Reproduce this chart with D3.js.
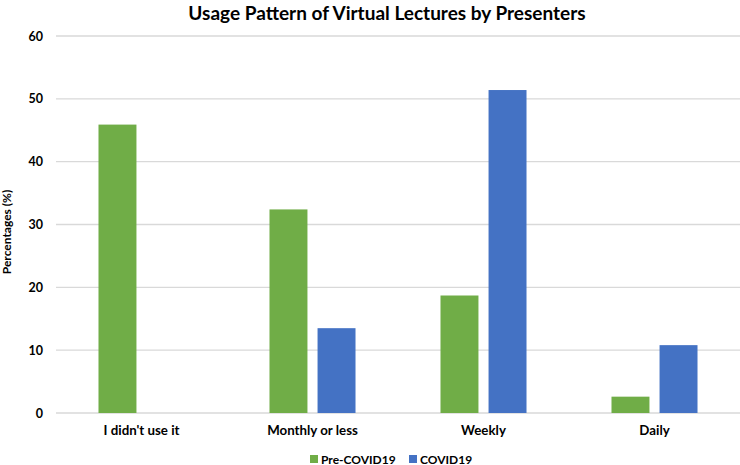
<!DOCTYPE html>
<html>
<head>
<meta charset="utf-8">
<script src="https://cdn.jsdelivr.net/npm/d3@7"></script>
<style>
  body { margin: 0; background: #fff; }
  svg text { font-family: Lato, "Noto Sans", sans-serif; font-weight: bold; fill: #000; }
</style>
</head>
<body>
<div id="chart"></div>
<script>
var categories = ["I didn't use it", 'Monthly or less', 'Weekly', 'Daily'];
var seriesNames = ['Pre-COVID19', 'COVID19'];
var preCovid = [45.9, 32.4, 18.7, 2.6];
var covid = [0, 13.5, 51.4, 10.8];
var yTicks = [0, 10, 20, 30, 40, 50, 60];
var colors = ['#70ad47', '#4472c4'];

var W = 740, H = 465;
var margin = { top: 36, right: 0, bottom: 52, left: 56 };
var width = W - margin.left - margin.right,
    height = H - margin.top - margin.bottom;

var svg = d3.select('#chart').append('svg')
    .attr('width', W)
    .attr('height', H);

// title
svg.append('text')
    .attr('x', 387)
    .attr('y', 20)
    .attr('text-anchor', 'middle')
    .style('font-size', '19px')
    .text('Usage Pattern of Virtual Lectures by Presenters');

var g = svg.append('g')
    .attr('transform', 'translate(' + margin.left + ',' + margin.top + ')');

var x = d3.scaleBand().domain(categories).range([0, width]).paddingInner(0.497).paddingOuter(0.2485);
var x1 = d3.scaleBand().domain(seriesNames).range([0, x.bandwidth()]).paddingInner(0.21);
var y = d3.scaleLinear().domain([0, 60]).range([height, 0]);

// gridlines
g.selectAll('.grid')
    .data(yTicks)
    .enter().append('line')
    .attr('class', 'grid')
    .attr('x1', 0)
    .attr('x2', width)
    .attr('y1', function(d) { return y(d); })
    .attr('y2', function(d) { return y(d); })
    .attr('stroke', '#d9d9d9')
    .attr('stroke-width', 1.3);

// y axis labels
var yAxis = g.append('g')
    .call(d3.axisLeft(y).tickValues(yTicks).tickSize(0).tickPadding(13));
yAxis.select('.domain').remove();
yAxis.selectAll('text').style('font-size', '12.5px');

svg.append('text')
    .attr('transform', 'translate(11,232) rotate(-90)')
    .attr('text-anchor', 'middle')
    .style('font-size', '12px')
    .text('Percentages (%)');

// x axis labels
var xAxis = g.append('g')
    .attr('transform', 'translate(0,' + height + ')')
    .call(d3.axisBottom(x).tickSize(0).tickPadding(13));
xAxis.select('.domain').remove();
xAxis.selectAll('text').style('font-size', '13.3px');

// bars
var rows = categories.map(function(c, i) {
    return { cat: c, values: [preCovid[i], covid[i]] };
});

var groups = g.selectAll('.cat')
    .data(rows)
    .enter().append('g')
    .attr('class', 'cat')
    .attr('transform', function(d) { return 'translate(' + x(d.cat) + ',0)'; });

groups.selectAll('rect')
    .data(function(d) {
        return d.values.map(function(v, j) { return { s: seriesNames[j], v: v, j: j }; });
    })
    .enter().append('rect')
    .attr('x', function(d) { return x1(d.s); })
    .attr('y', function(d) { return y(d.v); })
    .attr('width', x1.bandwidth())
    .attr('height', function(d) { return height - y(d.v); })
    .attr('fill', function(d) { return colors[d.j]; });

// legend
var legendX = [310, 409];
var legend = svg.selectAll('.legend')
    .data(seriesNames)
    .enter().append('g')
    .attr('class', 'legend')
    .attr('transform', function(d, i) { return 'translate(' + legendX[i] + ',455)'; });

legend.append('rect')
    .attr('width', 8)
    .attr('height', 8)
    .attr('fill', function(d, i) { return colors[i]; });

legend.append('text')
    .attr('x', 11)
    .attr('y', 8.5)
    .style('font-size', '12px')
    .text(function(d) { return d; });
</script>
</body>
</html>
